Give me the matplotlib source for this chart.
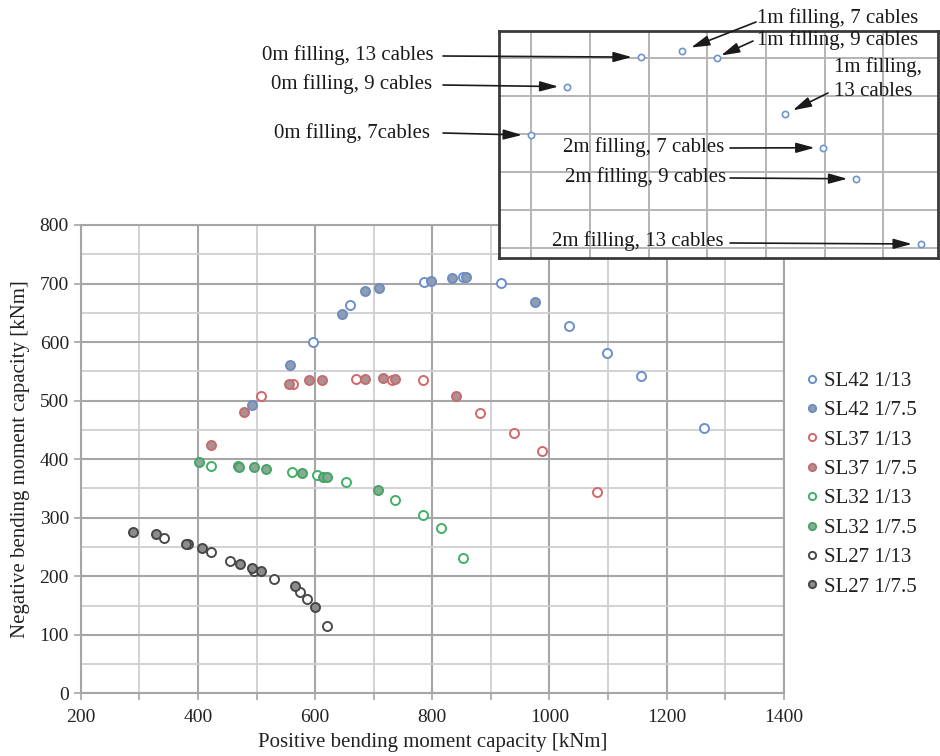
import matplotlib
matplotlib.use('Agg')
import matplotlib.pyplot as plt
import matplotlib.ticker as mticker

plt.rcParams['font.family'] = ['Liberation Serif', 'DejaVu Serif']

# ---- capacity data [kNm]: (positive, negative) ----
sl42_13_x = [596.6, 660, 785.8, 852, 916.6, 1032.7, 1098.6, 1155.5, 1263.6]
sl42_13_y = [599.7, 662.9, 702.7, 710.7, 700.5, 627, 581, 541.6, 453.3]
sl42_75_x = [493, 557.4, 645.5, 685, 709.7, 797, 833, 857, 975.8]
sl42_75_y = [493, 560.4, 648, 688, 692, 704.4, 709, 711, 669]

sl37_13_x = [508, 562.5, 670, 731, 783.5, 882, 938.8, 987.7, 1081.6]
sl37_13_y = [508, 528.5, 537, 534.7, 534.7, 478.4, 445.3, 414, 344.5]
sl37_75_x = [422, 478.4, 555.7, 589, 612, 685, 716.5, 737, 841]
sl37_75_y = [423.7, 480.6, 528.5, 534.7, 534.7, 537, 539.3, 537, 508]

sl32_13_x = [422, 559.7, 603.4, 652.8, 736.4, 783.5, 815.4, 853]
sl32_13_y = [388.4, 377.6, 373.6, 361, 329.7, 304.7, 281.9, 231.8]
sl32_75_x = [402.3, 468.8, 470, 496, 516, 577, 613, 621, 707.4]
sl32_75_y = [394.6, 389, 386.7, 386, 383.8, 376, 370, 369.6, 346.8]

sl27_13_x = [341.5, 383, 422, 454, 495.5, 530, 574, 586, 621]
sl27_13_y = [264.8, 255, 242, 225.5, 209, 196, 173, 160.6, 114.5]
sl27_75_x = [289, 328, 379.5, 407, 471, 493, 508, 565, 599]
sl27_75_y = [275, 271.6, 255, 248, 221.5, 214.7, 208.4, 183.4, 148]

# zoomed detail of the SL42 1/13 peak (inset grid units)
detail_x = [0.0, 0.62, 1.87, 2.57, 3.16, 4.33, 4.97, 5.54, 6.64]
detail_y = [2.97, 4.25, 5.03, 5.19, 5.02, 3.53, 2.64, 1.82, 0.10]
detail_labels = ['0m filling, 7cables', '0m filling, 9 cables', '0m filling, 13 cables',
                 '1m filling, 7 cables', '1m filling, 9 cables', '1m filling,\n13 cables',
                 '2m filling, 7 cables', '2m filling, 9 cables', '2m filling, 13 cables']

W, H = 940, 756
fig = plt.figure(figsize=(W / 100, H / 100), dpi=100)


def fpos(px, py):
    # pixel position (from top-left) -> figure fraction
    return px / W, 1 - py / H


ax = fig.add_axes([0.0859, 0.0829, 0.748, 0.6195])

series = [
    ('SL42 1/13', sl42_13_x, sl42_13_y, '#6a8fcf', 'white'),
    ('SL42 1/7.5', sl42_75_x, sl42_75_y, '#6d8cc2', '#909cb2'),
    ('SL37 1/13', sl37_13_x, sl37_13_y, '#d2686b', 'white'),
    ('SL37 1/7.5', sl37_75_x, sl37_75_y, '#c46c6f', '#ae9091'),
    ('SL32 1/13', sl32_13_x, sl32_13_y, '#3fb066', 'white'),
    ('SL32 1/7.5', sl32_75_x, sl32_75_y, '#45a466', '#88a994'),
    ('SL27 1/13', sl27_13_x, sl27_13_y, '#4a4a4a', 'white'),
    ('SL27 1/7.5', sl27_75_x, sl27_75_y, '#474747', '#8c8c8c'),
]
for lab, xs, ys, ec, fc in series:
    ax.plot(xs, ys, 'o', ms=6.5, mew=1.4, mec=ec, mfc=fc, label=lab, zorder=3)

ax.set_xlim(200, 1400)
ax.set_ylim(0, 800)
ax.xaxis.set_major_locator(mticker.MultipleLocator(200))
ax.xaxis.set_minor_locator(mticker.MultipleLocator(100))
ax.yaxis.set_major_locator(mticker.MultipleLocator(100))
ax.yaxis.set_minor_locator(mticker.MultipleLocator(50))
ax.grid(True, which='major', color='#a6a6a6', lw=1.5)
ax.grid(True, which='minor', color='#cfcfcf', lw=1.3)
ax.set_axisbelow(True)
ax.tick_params(axis='both', which='both', direction='out', length=5, width=1.2,
               color='#a6a6a6', labelsize=14, labelcolor='#222222')
ax.tick_params(axis='x', pad=6)
ax.tick_params(axis='y', which='minor', length=0)
for s in ax.spines.values():
    s.set_color('#a6a6a6')
    s.set_linewidth(1.5)

ax.set_xlabel('Positive bending moment capacity [kNm]', fontsize=15, color='#222222')
ax.set_ylabel('Negative bending moment capacity [kNm]', fontsize=15, color='#222222')
ax.xaxis.set_label_coords(0.5, -0.085)
ax.yaxis.set_label_coords(-0.072, 0.5)

leg = ax.legend(loc='center left', bbox_to_anchor=fpos(806, 484), bbox_transform=fig.transFigure,
                frameon=False, fontsize=15, handlelength=0.6, handletextpad=0.25,
                labelspacing=0.47, borderpad=0, borderaxespad=0, markerscale=0.8)
for t in leg.get_texts():
    t.set_color('#222222')

# ---- inset ----
axi = fig.add_axes([0.5309, 0.6587, 0.467, 0.3003])
axi.plot(detail_x, detail_y, 'o', ms=4.5, mew=1.2, mec='#7094cc', mfc='white', zorder=3)
axi.set_xlim(-0.545, 6.93)
axi.set_ylim(-0.27, 5.72)
axi.xaxis.set_major_locator(mticker.MultipleLocator(1))
axi.yaxis.set_major_locator(mticker.MultipleLocator(1))
axi.grid(True, color='#b4b4b4', lw=1.4)
axi.set_axisbelow(True)
axi.tick_params(length=0, labelbottom=False, labelleft=False)
for s in axi.spines.values():
    s.set_color('#3a3a3a')
    s.set_linewidth(2)

# label anchor, alignment, arrow start, arrow shrink (points)
label_layout = [
    ((430, 133), 'right', (443, 133), 6.5),
    ((432, 84), 'right', (443, 85), 6.5),
    ((434, 55), 'right', (443, 56), 6.5),
    ((757, 18), 'left', (756, 22), 7),
    ((757, 40), 'left', (753, 41), 3.5),
    ((834, 79), 'left', (828, 93), 6),
    ((724, 147), 'right', (730, 148), 6),
    ((726, 177), 'right', (730, 178), 6.5),
    ((724, 241), 'right', (730, 243), 6.5),
]

for i, lab in enumerate(detail_labels):
    (tx, ty), ha, (sx, sy), shr = label_layout[i]
    fig.text(*fpos(tx, ty), lab, ha=ha, va='center', fontsize=15, color='#1a1a1a',
             linespacing=1.35)
    axi.annotate('', xy=(detail_x[i], detail_y[i]), xycoords='data',
                 xytext=fpos(sx, sy), textcoords='figure fraction', annotation_clip=False,
                 arrowprops=dict(arrowstyle='-|>,head_length=0.8,head_width=0.22',
                                 mutation_scale=14, color='#1a1a1a', lw=1.2,
                                 shrinkA=0, shrinkB=shr))

fig.savefig('out.png', dpi=100)
